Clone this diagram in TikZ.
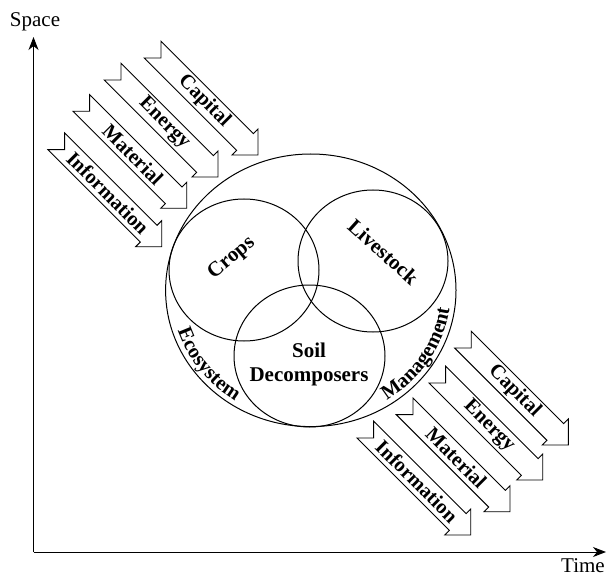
\documentclass[tikz,border=0pt]{standalone}
\usepackage{fontspec}
\setmainfont{Liberation Serif}
\usetikzlibrary{
    arrows.meta,
    calc,
    decorations.text
}
\tikzset{
    axis/.style={line width=1pt, -{Stealth[length=13pt, width=10pt, inset=4pt]}},
    ring/.style={line width=1pt},
    flow/.style={draw, line width=0.9pt, fill=white, line join=miter},
    flowlabel/.style={font=\fontsize{20.5}{24}\selectfont\bfseries, rotate=-45, inner sep=0pt},
    partlabel/.style={font=\fontsize{21}{25}\selectfont\bfseries, inner sep=0pt},
    axislabel/.style={font=\fontsize{21}{25}\selectfont, inner sep=0pt}
}

\begin{document}
\begin{tikzpicture}[x=1pt, y=-1pt]
    \useasboundingbox (0, 0) rectangle (607, 577);
    % axes
    \coordinate (origin) at (33.5, 552);
    \coordinate (ytop) at (33.5, 37);
    \coordinate (xend) at (606, 552);
    \draw[axis] (origin) -- (ytop);
    \draw[axis] (origin) -- (xend);
    \node[axislabel] (space) at (35, 22) {Space};
    \node[axislabel] (time) at (583, 566) {Time};
    % rings
    \coordinate (farm) at (310.8, 290.3);
    \draw[ring] (farm) ellipse [x radius=145.2, y radius=136.3];
    \draw[ring] (244, 270) ellipse [x radius=75, y radius=71];
    \draw[ring] (373, 261) ellipse [x radius=75, y radius=71];
    \draw[ring] (309.5, 356) ellipse [x radius=75.5, y radius=71];
    \node[partlabel, rotate=40] (crops) at (231.7, 258.3) {Crops};
    \node[partlabel, rotate=-42] (livestock) at (383.3, 251.7) {Livestock};
    \node[partlabel, align=center] (soil) at (309, 364) {Soil\\[-1pt]Decomposers};
    % labels along the outer ring
    \path[decorate, decoration={text along path, text align=center,
        text={|\fontsize{20.5}{24}\selectfont\bfseries|Ecosystem}}]
        ($(farm)+(170:140 and 131)$) arc [start angle=170, end angle=115, x radius=140, y radius=131];
    \path[decorate, decoration={text along path, text align=center,
        text={|\fontsize{20.5}{24}\selectfont\bfseries|Management}}]
        ($(farm)+(60:140 and 131)$) arc [start angle=60, end angle=5, x radius=140, y radius=131];
    % flows in and out
    \foreach \tx/\ty/\nm/\lbl in {
        258/155/incap/Capital, 218/177/inene/Energy,
        186.7/208.3/inmat/Material, 161.7/246.7/ininf/Information,
        568.3/445/outcap/Capital, 542.7/480/outene/Energy,
        510/511.7/outmat/Material, 470.7/535/outinf/Information}
    {
        \begin{scope}[shift={(\tx, \ty)}, rotate=-45]
            \draw[flow] (-149, 11.8) -- (-18.4, 11.8) -- (-18.4, 18.4) -- (0, 0)
                -- (-18.4, -18.4) -- (-18.4, -11.8) -- (-149, -11.8) -- (-137.2, 0) -- cycle;
            \node[flowlabel] (\nm) at (-76, 0) {\lbl};
        \end{scope}
    }
\end{tikzpicture}
\end{document}
